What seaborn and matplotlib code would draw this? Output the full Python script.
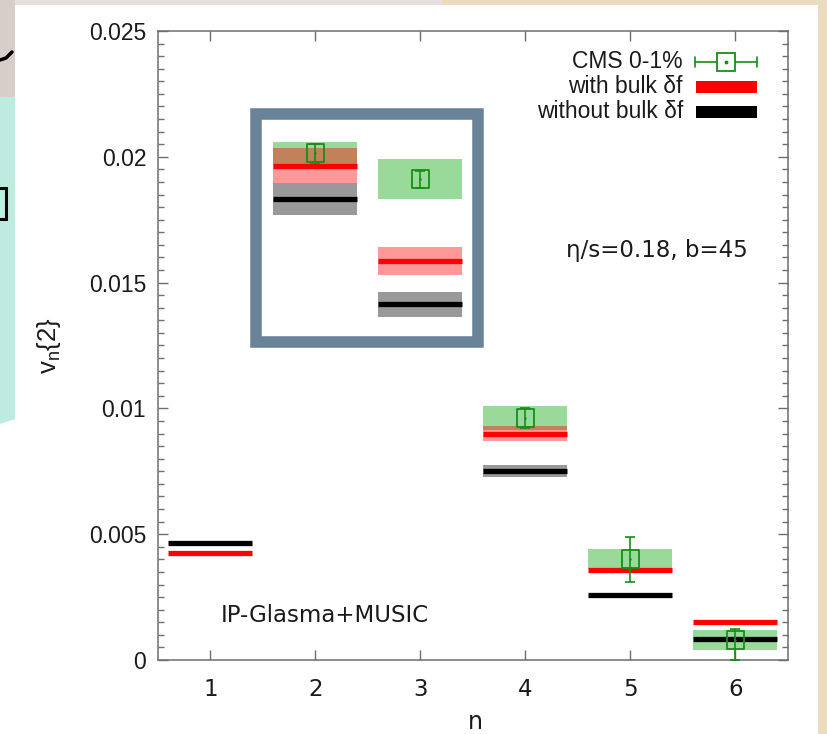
import matplotlib
matplotlib.use("Agg")
import numpy as np
import pandas as pd
import seaborn as sns
import matplotlib.pyplot as plt
from matplotlib.patches import Rectangle, Polygon
from matplotlib.lines import Line2D
from matplotlib.ticker import MultipleLocator, FuncFormatter

# ---------------- data ----------------
n = [1, 2, 3, 4, 5, 6]
with_bulk = [0.00424, 0.01965, 0.01586, 0.00900, 0.00356, 0.00152]
with_bulk_err = [0.0, 0.00068, 0.00055, 0.00029, 0.0, 0.0]
without_bulk = [0.00464, 0.01832, 0.01414, 0.00752, 0.00258, 0.00085]
without_bulk_err = [0.0, 0.00063, 0.00050, 0.00023, 0.0, 0.0]
cms_n = [2, 3, 4, 5, 6]
cms_v = [0.02014, 0.01911, 0.00962, 0.00400, 0.00080]
cms_err_lo = [0.00037, 0.00034, 0.00040, 0.00089, 0.00080]
cms_err_hi = [0.00036, 0.00034, 0.00040, 0.00090, 0.00042]
cms_sys = [0.00046, 0.00080, 0.00048, 0.00040, 0.00039]
y_ticks = [0, 0.005, 0.01, 0.015, 0.02, 0.025]
x_ticks = [1, 2, 3, 4, 5, 6]

model = pd.DataFrame({"n": n, "with": with_bulk, "with_err": with_bulk_err,
                      "without": without_bulk, "without_err": without_bulk_err})
cms = pd.DataFrame({"n": cms_n, "v": cms_v, "lo": cms_err_lo, "hi": cms_err_hi, "sys": cms_sys})

sns.set_style("ticks")
plt.rcParams["font.family"] = ["Liberation Sans", "DejaVu Sans"]
FS = 16.5

W, H = 828, 734
fig = plt.figure(figsize=(W / 100, H / 100), dpi=100)
fig.patch.set_facecolor("white")

def fx(px):
    return px / W

def fy(py):
    return 1 - py / H

# ---------- background decorations ----------
def frect(x0, y0, x1, y1, color, z=0):
    fig.add_artist(Rectangle((fx(x0), fy(y1)), fx(x1) - fx(x0), fy(y0) - fy(y1),
                             transform=fig.transFigure, facecolor=color, edgecolor="none", zorder=z))

frect(0, 0, 442, 5, "#e7dfdc")
frect(442, 0, W, 5, "#ebdcc0")
frect(818, 0, W, H, "#ebdcc0")
frect(0, 0, 15, 97, "#d7cec9")
fig.add_artist(Polygon([(fx(0), fy(97)), (fx(15), fy(97)), (fx(15), fy(419)), (fx(0), fy(424))],
                       closed=True, transform=fig.transFigure, facecolor="#bdebe0", edgecolor="none"))
fig.add_artist(Line2D([fx(0), fx(6.5), fx(6.5), fx(0)], [fy(188), fy(188), fy(219), fy(219)],
                      transform=fig.transFigure, color="black", lw=2.2, solid_joinstyle="miter"))
fig.add_artist(Line2D([fx(0), fx(6), fx(12)], [fy(60), fy(58), fy(52)],
                      transform=fig.transFigure, color="black", lw=2.5))

# ---------- axes ----------
ax = fig.add_axes([158 / W, 1 - 660 / H, 630 / W, 629 / H])
ax.set_facecolor("white")

# CMS systematic bands
ax.bar(cms["n"], 2 * cms["sys"], bottom=cms["v"] - cms["sys"], width=0.8,
       color="#00a000", alpha=0.4, linewidth=0, zorder=1)
# model bands
ax.bar(model["n"], 2 * model["with_err"], bottom=model["with"] - model["with_err"], width=0.8,
       color="#ff0000", alpha=0.4, linewidth=0, zorder=2)
ax.bar(model["n"], 2 * model["without_err"], bottom=model["without"] - model["without_err"], width=0.8,
       color="#000000", alpha=0.4, linewidth=0, zorder=3)
# model central lines
ax.hlines(model["with"], model["n"] - 0.4, model["n"] + 0.4, color="#ff0000", lw=3.8, zorder=4)
ax.hlines(model["without"], model["n"] - 0.4, model["n"] + 0.4, color="#000000", lw=3.8, zorder=5)

# CMS data points
green = "#158f15"
ax.errorbar(cms["n"], cms["v"], yerr=[cms["lo"], cms["hi"]], fmt="none", ecolor=green,
            elinewidth=1.2, capsize=3.6, capthick=1.2, zorder=6)
sns.scatterplot(data=cms, x="n", y="v", marker="s", s=165, facecolors="none",
                edgecolor=green, linewidth=1.3, ax=ax, zorder=7, legend=False)
sns.scatterplot(data=cms, x="n", y="v", marker="o", s=3, color=green, linewidth=0,
                ax=ax, zorder=7, legend=False)

# highlight frame
ax.add_patch(Rectangle((1.434, 0.01262), 3.545 - 1.434, 0.0217 - 0.01262, fill=False,
                       edgecolor="#6a8399", lw=8.3, joinstyle="miter", zorder=8))

ax.set_xlim(0.5, 6.5)
ax.set_ylim(0, 0.025)
ax.set_xticks(x_ticks)
ax.set_yticks(y_ticks)
ax.yaxis.set_minor_locator(MultipleLocator(0.0005))
ax.yaxis.set_major_formatter(FuncFormatter(lambda v, p: "0" if v == 0 else f"{v:g}"))
ax.tick_params(axis="both", which="both", direction="in", top=True, right=True,
               color="#6e6e6e", width=1.0, labelsize=FS, labelcolor="#1a1a1a")
ax.tick_params(axis="both", which="major", length=7)
ax.tick_params(axis="y", which="minor", length=4)
ax.tick_params(axis="y", which="major", pad=8.5)
ax.tick_params(axis="x", which="major", pad=13)
for lab in ax.get_xticklabels():
    lab.set_fontfamily("DejaVu Sans")
for sp in ax.spines.values():
    sp.set_color("#6e6e6e")
    sp.set_linewidth(1.1)
    sp.set_visible(True)

ax.set_xlabel("n", fontsize=17, fontfamily="DejaVu Sans", color="#1a1a1a")
ax.xaxis.label.set_va("center")
ax.xaxis.set_label_coords((475 - 158) / 630, (660 - 722) / 629)
ax.set_ylabel(r"$\mathregular{v_n\{2\}}$", fontsize=18.5, color="#1a1a1a")
ax.yaxis.label.set_va("center")
ax.yaxis.set_label_coords((49 - 158) / 630, (660 - 346) / 629)

def axx(px):
    return (px - 158) / 630

def axy(py):
    return (660 - py) / 629

# legend (gnuplot style, text right-aligned)
tkw = dict(transform=ax.transAxes, ha="right", va="center", fontsize=FS, color="#1a1a1a", zorder=10)
ax.text(axx(683), axy(62), "CMS 0-1%", **tkw)
ax.text(axx(683), axy(87), "with bulk δf", **tkw)
ax.text(axx(683), axy(112), "without bulk δf", **tkw)
lkw = dict(transform=ax.transAxes, color=green, lw=1.2, clip_on=False, zorder=10)
ax.add_line(Line2D([axx(695), axx(757)], [axy(62), axy(62)], **lkw))
ax.add_line(Line2D([axx(695), axx(695)], [axy(57), axy(67)], **lkw))
ax.add_line(Line2D([axx(757), axx(757)], [axy(57), axy(67)], **lkw))
ax.add_line(Line2D([axx(726)], [axy(62)], marker="s", markersize=12.5, markerfacecolor="white",
                   markeredgecolor=green, markeredgewidth=1.3, transform=ax.transAxes, zorder=11))
ax.add_line(Line2D([axx(726)], [axy(62)], marker="o", markersize=1.8, color=green,
                   transform=ax.transAxes, zorder=12))
ax.add_patch(Rectangle((axx(696), axy(93)), axx(757) - axx(696), axy(81) - axy(93),
                       transform=ax.transAxes, facecolor="#ff0000", edgecolor="none", zorder=10))
ax.add_patch(Rectangle((axx(696), axy(118)), axx(757) - axx(696), axy(106) - axy(118),
                       transform=ax.transAxes, facecolor="#000000", edgecolor="none", zorder=10))

ax.text(axx(657), axy(251), "η/s=0.18, b=45", transform=ax.transAxes, ha="center", va="center",
        fontsize=FS, fontfamily="DejaVu Sans", color="#1a1a1a")
ax.text(axx(325), axy(616), "IP-Glasma+MUSIC", transform=ax.transAxes, ha="center", va="center",
        fontsize=FS, fontfamily="DejaVu Sans", color="#1a1a1a")

fig.savefig("out.png", dpi=100, facecolor=fig.get_facecolor())
